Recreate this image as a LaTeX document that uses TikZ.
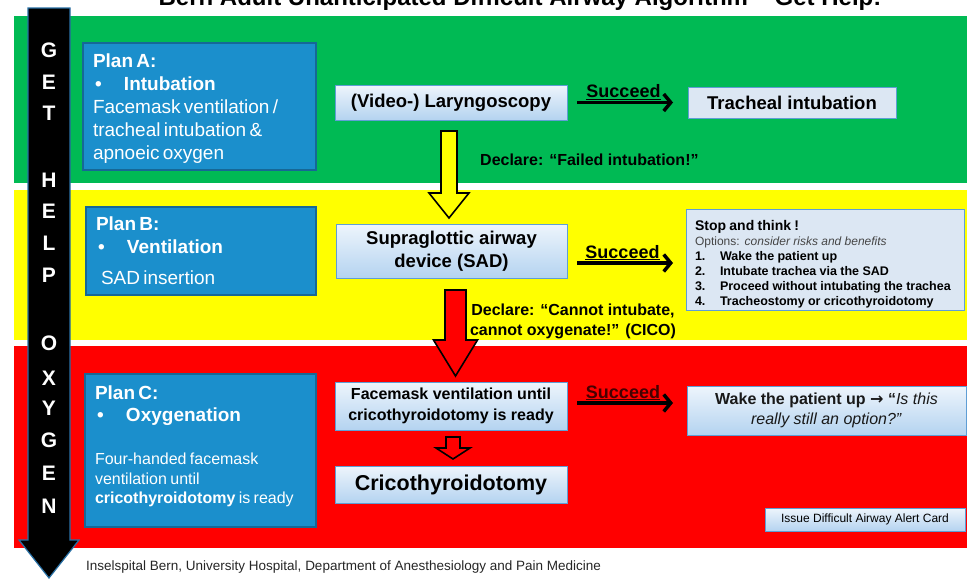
\documentclass[tikz,border=0pt]{standalone}
\usepackage{fontspec}
\setmainfont{Liberation Sans}
\newfontfamily\symfont{DejaVu Sans}
\usetikzlibrary{calc,arrows.meta}
\definecolor{bandgreen}{RGB}{0,186,84}
\definecolor{bandyellow}{RGB}{255,255,0}
\definecolor{bandred}{RGB}{255,0,0}
\definecolor{planblue}{RGB}{27,143,204}
\definecolor{planedge}{RGB}{22,104,150}
\definecolor{boxtop}{RGB}{238,245,252}
\definecolor{boxbot}{RGB}{180,211,240}
\definecolor{boxedge}{RGB}{95,158,213}
\definecolor{boxflat}{RGB}{220,231,243}
\definecolor{helpedge}{RGB}{40,112,165}
\definecolor{succred}{RGB}{70,0,0}
\definecolor{optgrey}{RGB}{70,70,70}
\newcommand\fsz[2]{\fontsize{#1}{#2}\selectfont}
\tikzset{
    plan/.style 2 args={draw=planedge,line width=1.2pt,fill=planblue,text=white,anchor=north west,align=left,inner xsep=10pt,inner ysep=0pt,outer sep=0pt,text width=#1,minimum height=#2},
    lbox/.style={draw=boxedge,line width=1pt,top color=boxtop,bottom color=boxbot,text=black,font=\bfseries,align=center,inner sep=0pt,outer sep=0pt},
    flatbox/.style={draw=boxedge,line width=1pt,fill=boxflat,text=black,inner sep=0pt,outer sep=0pt},
    succ/.style={line width=3.5pt,-{Straight Barb[length=7pt,width=17pt]}},
    succlabel/.style={midway,above,inner sep=1pt,xshift=-4pt,font=\fsz{18}{20}\bfseries},
    blockline/.style={draw=black,line width=1.6pt,line join=miter},
    helpletter/.style={text=white,font=\fsz{21}{21}\bfseries,inner sep=0pt},
    declare/.style={font=\fsz{16}{20}\bfseries,inner sep=0pt}
}
% block arrow: fill, from, to, half shaft, half head, head length
\newcommand\blockarrow[6]{%
  \draw[blockline,fill=#1] let \p1=(#2), \p2=(#3) in
    (\x1-#4,\y1) -- (\x1-#4,\y2+#6) -- (\x1-#5,\y2+#6) -- (\x1,\y2) -- (\x1+#5,\y2+#6) -- (\x1+#4,\y2+#6) -- (\x1+#4,\y1) -- cycle;}

\begin{document}
\begin{tikzpicture}[x=1pt,y=-1pt]
  \useasboundingbox (0,0) rectangle (967,579);
  \clip (0,0) rectangle (967,579);

  % Bands
  \fill[bandgreen] (14,16) rectangle (967,183);
  \fill[bandyellow] (14,190) rectangle (967,340);
  \fill[bandred] (14,346) rectangle (967,548);

  % Title and footer
  \node[font=\fsz{24}{28}\bfseries,anchor=base,inner sep=0pt] (title) at (520,5) {Bern Adult Unanticipated Difficult Airway Algorithm – Get Help!};
  \node[font=\fsz{13.5}{16},text=black!85,anchor=west,inner sep=0pt] (footer) at (86,567) {Inselspital Bern, University Hospital, Department of Anesthesiology and Pain Medicine};

  % Get help arrow
  \draw[fill=black,draw=helpedge,line width=1.2pt] (28,8) -- (70,8) -- (70,540) -- (79,540) -- (49,578) -- (19,540) -- (28,540) -- cycle;
  \foreach \c/\y in {G/50,E/82,T/113,H/180,E/211,L/243,P/275,O/343,X/378,Y/408,G/440,E/473,N/506}
    \node[helpletter] (help\y) at (49,\y) {\c};

  % Plans
  \node[plan={213pt}{127pt}] (planA) at (83,43) {\fsz{19}{23}\bfseries Plan A:\\
    \makebox[31pt][l]{\hspace{2pt}•}Intubation\\
    \mdseries Facemask ventilation /\\
    tracheal intubation \&\\
    apnoeic oxygen\par\vspace{-4pt}};
  \node[plan={210pt}{88pt}] (planB) at (86,207) {\fsz{19}{23}\bfseries Plan B:\\
    \makebox[31pt][l]{\hspace{2pt}•}Ventilation\\[8pt]
    \mdseries\hspace*{5pt}SAD insertion\par};
  \node[plan={211pt}{153pt}] (planC) at (85,374) {\fsz{19}{22}\bfseries Plan C:\\
    \makebox[31pt][l]{\hspace{2pt}•}Oxygenation\\[24pt]
    \fsz{16}{19.5}\mdseries Four-handed facemask\\
    ventilation until\\
    \textbf{cricothyroidotomy} is ready\par\vspace{8pt}};

  % Steps
  \node[lbox,minimum width=232pt,minimum height=35pt,font=\fsz{18.5}{22}\bfseries] (lar) at (451,102.5) {(Video-) Laryngoscopy};
  \node[flatbox,minimum width=208pt,minimum height=31pt,font=\fsz{18.5}{22}\bfseries] (tra) at (792,102.5) {Tracheal intubation};
  \node[lbox,minimum width=231pt,minimum height=54pt,font=\fsz{18.5}{23}\bfseries] (sad) at (451.5,251) {Supraglottic airway\\device (SAD)};
  \node[flatbox,minimum width=278pt,minimum height=101pt,align=left,text width=260pt,inner xsep=9pt] (stop) at (825,259.5) {\fsz{14}{16}\bfseries Stop and think !\\
    \fsz{12}{15}\mdseries\color{optgrey}Options: \textit{consider risks and benefits}\\
    \color{black}\fsz{12.5}{15}\bfseries
    \makebox[25pt][l]{1.}Wake the patient up\\
    \makebox[25pt][l]{2.}Intubate trachea via the SAD\\
    \makebox[25pt][l]{3.}Proceed without intubating the trachea\\
    \makebox[25pt][l]{4.}Tracheostomy or cricothyroidotomy\par\vspace{-10pt}};
  \node[lbox,minimum width=232pt,minimum height=48pt,font=\fsz{16}{21}\bfseries] (fm) at (451,406) {Facemask ventilation until\\cricothyroidotomy is ready};
  \node[lbox,minimum width=232pt,minimum height=37pt,font=\fsz{21.5}{24}\bfseries] (crico) at (451,484.5) {Cricothyroidotomy};
  \node[lbox,minimum width=279pt,minimum height=49pt,font=\fsz{16}{20},text=black!90] (wake) at (826.5,410.5) {\textbf{Wake the patient up {\symfont\bfseries →} “}\textit{Is this}\\\textit{really still an option?”}};
  \node[lbox,minimum width=200pt,minimum height=23pt,font=\fsz{12}{14}\mdseries] (card) at (865,519.5) {Issue Difficult Airway Alert Card};

  % Declare arrows
  \blockarrow{bandyellow}{$(lar.south)+(-2,11)$}{$(sad.north)+(-2,-6)$}{8pt}{20pt}{25pt}
  \blockarrow{bandred}{$(sad.south)+(4,12)$}{$(fm.north)+(4,-6)$}{10.5pt}{22pt}{36pt}
  \blockarrow{bandred}{$(fm.south)+(2,7)$}{$(crico.north)+(2,-7)$}{7pt}{17pt}{11pt}
  \node[declare,anchor=west] (declA) at (480,160) {Declare: “Failed intubation!”};
  \node[declare,align=center] (declB) at (573,321) {Declare: “Cannot intubate,\\cannot oxygenate!” (CICO)};

  % Succeed arrows
  \coordinate (sadout) at ([yshift=-12pt]sad.east);
  \coordinate (fmout) at ([yshift=3pt]fm.east);
  \draw[succ,shorten <=10pt,shorten >=15pt] (lar.east) -- (tra.west) node[succlabel] (succA) {\underline{Succeed}};
  \draw[succ,shorten <=10pt,shorten >=13pt] (sadout) -- (sadout -| stop.west) node[succlabel] (succB) {\underline{Succeed}};
  \draw[succ,shorten <=10pt,shorten >=14pt] (fmout) -- (fmout -| wake.west) node[succlabel,text=succred] (succC) {\underline{Succeed}};
\end{tikzpicture}
\end{document}
